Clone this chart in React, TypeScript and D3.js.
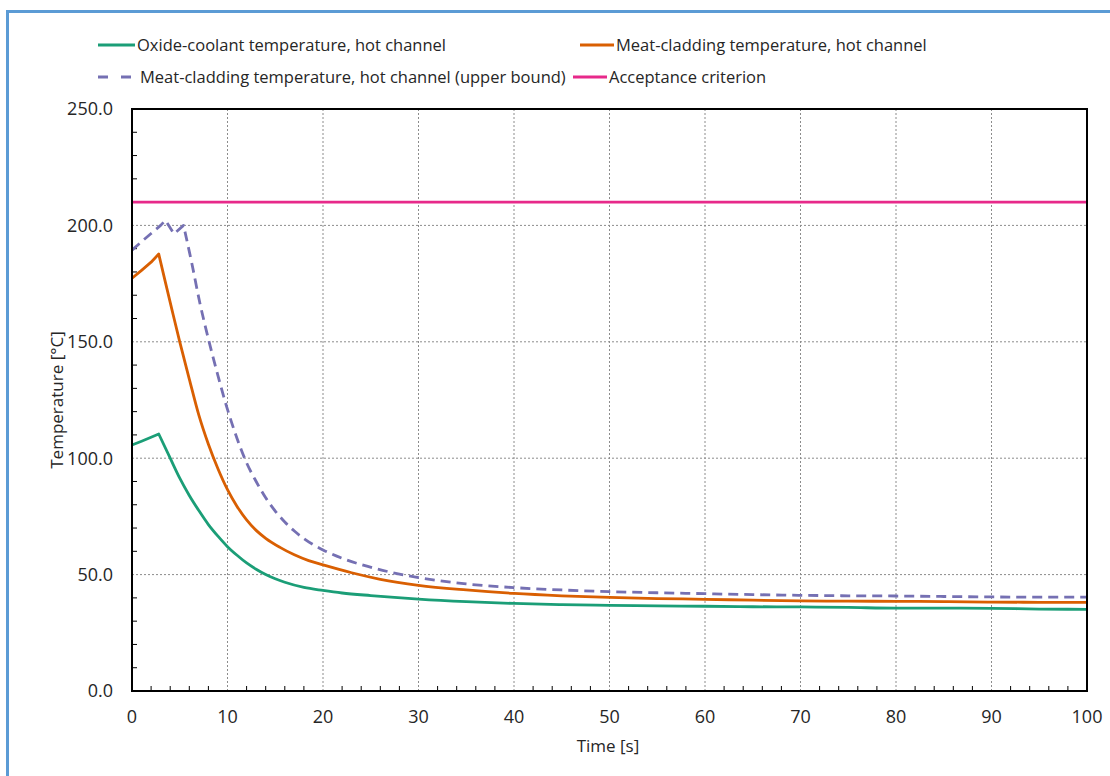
import React from "react";
import * as d3 from "d3";

const oxideTime = [0, 1, 2, 2.8, 4, 5, 6, 7, 8, 9, 10, 11, 12, 13, 14, 15, 16, 18, 20, 22, 25, 30, 35, 40, 45, 50, 55, 60, 65, 70, 75, 80, 85, 90, 95, 100];
const oxideTemp = [105.7, 107.3, 109, 110.4, 100, 91.4, 84, 77.5, 71.5, 66.5, 62, 58.3, 55, 52.3, 50, 48.2, 46.7, 44.5, 43.2, 42.1, 41, 39.5, 38.4, 37.6, 37.1, 36.8, 36.6, 36.4, 36.2, 36.1, 35.9, 35.6, 35.6, 35.5, 35.2, 35.1];
const oxidePeakIndex = 3;

const meatTime = [0, 1, 2, 2.8, 3.5, 4.2, 5, 6, 7, 8, 9, 10, 11, 12, 13, 14, 15.5, 17, 18.5, 20, 23, 26, 30, 35, 40, 45, 50, 55, 60, 65, 70, 75, 80, 85, 90, 95, 100];
const meatTemp = [177.3, 180.7, 184.2, 187.7, 175.5, 163.5, 150, 134, 118.5, 106, 95.5, 86.5, 79.3, 73.5, 69, 65.6, 61.7, 58.5, 56, 54.2, 50.8, 48, 45.4, 43.4, 41.9, 40.9, 40.2, 39.7, 39.4, 39, 38.7, 38.6, 38.5, 38.4, 38.2, 38.1, 38.1];
const meatPeakIndex = 3;

const upperTime = [0, 1, 2, 3, 3.5, 4.4, 5.4, 6.25, 7.1, 8, 9, 9.9, 11, 12, 13, 14, 15, 16, 17, 18, 19, 20, 22, 24.6, 27, 30, 35, 40, 45, 50, 55, 60, 65, 70, 75, 80, 85, 90, 95, 100];
const upperTemp = [189.4, 193, 196.5, 200, 202.2, 196.4, 200, 184, 166.8, 151.2, 135.5, 122.3, 108.5, 98, 90, 83, 77.3, 72.6, 68.7, 65.5, 62.8, 60.6, 57, 53.6, 51.1, 48.7, 46, 44.4, 43.4, 42.7, 42.2, 41.8, 41.4, 41.1, 40.9, 40.8, 40.6, 40.4, 40.3, 40.3];
const upperPeakIndex = 6;

const criterionTime = [0, 100];
const criterionTemp = [210, 210];

const xTicks = [0, 10, 20, 30, 40, 50, 60, 70, 80, 90, 100];
const yTicks = [0, 50, 100, 150, 200, 250];

const legendLabels = [
  "Oxide-coolant temperature, hot channel",
  "Meat-cladding temperature, hot channel",
  "Meat-cladding temperature, hot channel (upper bound)",
  "Acceptance criterion",
];

const FONT = "'Open Sans', sans-serif";
const TEXT = "#262626";

export default function App() {
  const W = 1110, H = 776;
  const left = 132, right = 1087, top = 109, bottom = 691;
  const x = d3.scaleLinear().domain([0, 100]).range([left, right]);
  const y = d3.scaleLinear().domain([0, 250]).range([bottom, top]);

  // linear up to the kink, smooth decay after it
  const path = (ts: number[], vs: number[], k: number) => {
    const idx = d3.range(vs.length);
    const lin = d3.line<number>().x((i) => x(ts[i])).y((i) => y(vs[i])).curve(d3.curveLinear);
    const smooth = d3.line<number>().x((i) => x(ts[i])).y((i) => y(vs[i])).curve(d3.curveMonotoneX);
    const a = lin(idx.slice(0, k + 1)) || "";
    const b = smooth(idx.slice(k)) || "";
    return a + "L" + b.slice(1);
  };

  const xMinor = d3.range(0, 101, 2).filter((v) => v % 10 !== 0);
  const yMinor = d3.range(0, 251, 10).filter((v) => v % 50 !== 0);

  const series = [
    { t: oxideTime, v: oxideTemp, k: oxidePeakIndex, color: "#1b9e77", dash: undefined as string | undefined },
    { t: meatTime, v: meatTemp, k: meatPeakIndex, color: "#d95f02", dash: undefined },
    { t: upperTime, v: upperTemp, k: upperPeakIndex, color: "#7570b3", dash: "10,6" },
    { t: criterionTime, v: criterionTemp, k: 0, color: "#e7298a", dash: undefined },
  ];

  const legendPos = [
    { x: 98, y: 45, tx: 137 },
    { x: 580, y: 45, tx: 616 },
    { x: 98, y: 77, tx: 140 },
    { x: 573, y: 77, tx: 609 },
  ];

  return (
    <svg width={W} height={H} style={{ position: "absolute", left: 0, top: 0, background: "#fff" }} fontFamily={FONT}>
      <rect x={7.5} y={11.5} width={1200} height={900} fill="#fff" stroke="#5b9bd5" strokeWidth={3} />

      {/* gridlines */}
      {xTicks.filter((v) => v > 0 && v < 100).map((v) => (
        <line key={"gx" + v} x1={x(v)} x2={x(v)} y1={top} y2={bottom} stroke="#8c8c8c" strokeWidth={1} strokeDasharray="2,2" />
      ))}
      {yTicks.filter((v) => v > 0 && v < 250).map((v) => (
        <line key={"gy" + v} x1={left} x2={right} y1={y(v)} y2={y(v)} stroke="#8c8c8c" strokeWidth={1} strokeDasharray="2,2" />
      ))}

      {/* minor ticks */}
      {xMinor.map((v) => (
        <line key={"mx" + v} x1={x(v)} x2={x(v)} y1={bottom} y2={bottom - 5} stroke="#000" strokeWidth={1} />
      ))}
      {yMinor.map((v) => (
        <line key={"my" + v} x1={left} x2={left + 5} y1={y(v)} y2={y(v)} stroke="#000" strokeWidth={1} />
      ))}

      {/* series */}
      {series.map((s, i) => (
        <path key={"s" + i} d={path(s.t, s.v, s.k)} fill="none" stroke={s.color} strokeWidth={2.8}
          strokeDasharray={s.dash} strokeLinejoin="round" />
      ))}

      {/* plot box */}
      <rect x={left} y={top} width={right - left} height={bottom - top} fill="none" stroke="#000" strokeWidth={2} />

      {/* tick labels */}
      {yTicks.map((v) => (
        <text key={"yl" + v} x={113} y={y(v)} dy="0.35em" textAnchor="end" fontSize={18} fill={TEXT}>
          {v.toFixed(1)}
        </text>
      ))}
      {xTicks.map((v) => (
        <text key={"xl" + v} x={x(v)} y={717} dy="0.35em" textAnchor="middle" fontSize={18} fill={TEXT}>
          {v}
        </text>
      ))}

      {/* axis titles */}
      <text x={608} y={746} dy="0.35em" textAnchor="middle" fontSize={17} fill={TEXT}>Time [s]</text>
      <text transform={`translate(57,${(top + bottom) / 2}) rotate(-90)`} dy="0.35em" textAnchor="middle" fontSize={17} fill={TEXT}>
        Temperature [°C]
      </text>

      {/* legend */}
      {legendLabels.map((lab, i) => {
        const p = legendPos[i];
        const s = series[i];
        return (
          <g key={"lg" + i}>
            <line x1={p.x} x2={s.dash ? p.x + 33 : p.tx - 2} y1={p.y} y2={p.y} stroke={s.color} strokeWidth={2.8}
              strokeDasharray={s.dash ? "10,13" : undefined} />
            <text x={p.tx} y={p.y} dy="0.35em" fontSize={16.5} fill={TEXT}>{lab}</text>
          </g>
        );
      })}
    </svg>
  );
}
